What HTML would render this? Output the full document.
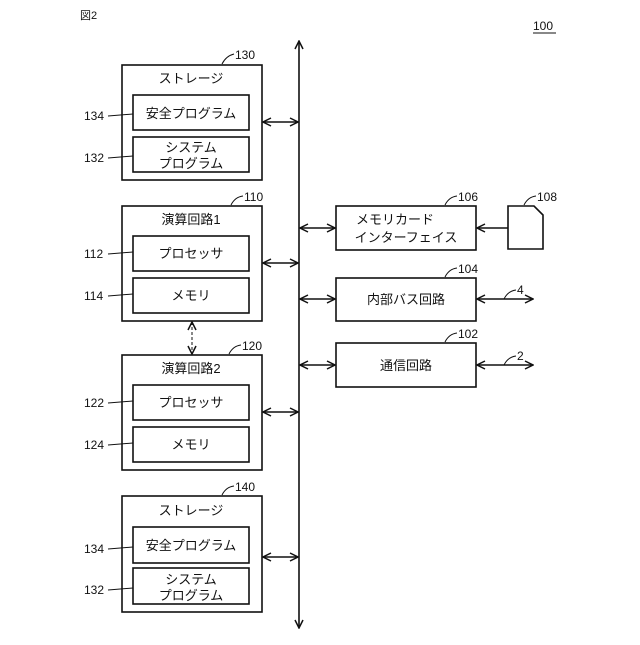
<!DOCTYPE html>
<html><head><meta charset="utf-8"><style>
body{margin:0;background:#fff}
svg text{font-family:"Liberation Sans","Noto Sans CJK JP",sans-serif;fill:#111}
</style></head><body>
<svg width="640" height="640" viewBox="0 0 640 640" xmlns="http://www.w3.org/2000/svg">
<defs>
<marker id="a" markerWidth="10" markerHeight="10" refX="9" refY="5" orient="auto-start-reverse" markerUnits="userSpaceOnUse">
<path d="M1,1 L9,5 L1,9" fill="none" stroke="#111" stroke-width="1.5"/>
</marker>
</defs>
<g stroke="#111" fill="none" stroke-width="1.6">
<!-- bus -->
<line x1="299" y1="41" x2="299" y2="628" marker-start="url(#a)" marker-end="url(#a)"/>
<!-- boxes left -->
<rect x="122" y="65" width="140" height="115"/>
<rect x="133" y="95" width="116" height="35"/>
<rect x="133" y="137" width="116" height="35"/>
<rect x="122" y="206" width="140" height="115"/>
<rect x="133" y="236" width="116" height="35"/>
<rect x="133" y="278" width="116" height="35"/>
<rect x="122" y="355" width="140" height="115"/>
<rect x="133" y="385" width="116" height="35"/>
<rect x="133" y="427" width="116" height="35"/>
<rect x="122" y="496" width="140" height="116"/>
<rect x="133" y="527" width="116" height="36"/>
<rect x="133" y="568" width="116" height="36"/>
<!-- right boxes -->
<rect x="336" y="206" width="140" height="44"/>
<rect x="336" y="278" width="140" height="43"/>
<rect x="336" y="343" width="140" height="44"/>
<path d="M508,206 H534 L543,215 V249 H508 Z"/>
<!-- connectors -->
<line x1="263" y1="122" x2="298" y2="122" marker-start="url(#a)" marker-end="url(#a)"/>
<line x1="263" y1="263" x2="298" y2="263" marker-start="url(#a)" marker-end="url(#a)"/>
<line x1="263" y1="412" x2="298" y2="412" marker-start="url(#a)" marker-end="url(#a)"/>
<line x1="263" y1="557" x2="298" y2="557" marker-start="url(#a)" marker-end="url(#a)"/>
<line x1="300" y1="228" x2="335" y2="228" marker-start="url(#a)" marker-end="url(#a)"/>
<line x1="300" y1="299" x2="335" y2="299" marker-start="url(#a)" marker-end="url(#a)"/>
<line x1="300" y1="365" x2="335" y2="365" marker-start="url(#a)" marker-end="url(#a)"/>
<line x1="508" y1="228" x2="477" y2="228" marker-end="url(#a)"/>
<line x1="477" y1="299" x2="533" y2="299" marker-start="url(#a)" marker-end="url(#a)"/>
<line x1="477" y1="365" x2="533" y2="365" marker-start="url(#a)" marker-end="url(#a)"/>
<line x1="192" y1="322" x2="192" y2="354" stroke-dasharray="3,2" stroke-width="1" marker-start="url(#a)" marker-end="url(#a)"/>
<!-- leaders -->
<g stroke-width="1">
<path d="M108,116 L133,114"/><path d="M108,158 L133,156"/>
<path d="M108,254 L133,252"/><path d="M108,296 L133,294"/>
<path d="M108,403 L133,401"/><path d="M108,445 L133,443"/>
<path d="M108,549 L133,547"/><path d="M108,590 L133,588"/>
<path d="M222,64 Q226,56 234,54"/><path d="M231,205 Q235,197 243,196"/>
<path d="M229,354 Q233,346 241,345"/><path d="M222,495 Q226,487 234,486"/>
<path d="M445,205 Q449,197 457,196"/><path d="M445,277 Q449,269 457,268"/>
<path d="M445,342 Q449,334 457,333"/><path d="M524,205 Q528,197 536,196"/>
<path d="M504,299 Q508,291 516,290"/><path d="M504,365 Q508,357 516,356"/>
<line x1="533" y1="33" x2="556" y2="33"/>
</g>
</g>
<g font-size="13" text-anchor="middle">
<text x="191" y="83">ストレージ</text>
<text x="191" y="118">安全プログラム</text>
<text x="191" y="152">システム</text>
<text x="191" y="168">プログラム</text>
<text x="191" y="224">演算回路1</text>
<text x="191" y="258">プロセッサ</text>
<text x="191" y="300">メモリ</text>
<text x="191" y="373">演算回路2</text>
<text x="191" y="407">プロセッサ</text>
<text x="191" y="449">メモリ</text>
<text x="191" y="515">ストレージ</text>
<text x="191" y="550">安全プログラム</text>
<text x="191" y="584">システム</text>
<text x="191" y="600">プログラム</text>
<text x="395" y="224">メモリカード</text>
<text x="406" y="242">インターフェイス</text>
<text x="406" y="304">内部バス回路</text>
<text x="406" y="370">通信回路</text>
</g>
<g font-size="12">
<text x="84" y="120">134</text><text x="84" y="162">132</text>
<text x="84" y="258">112</text><text x="84" y="300">114</text>
<text x="84" y="407">122</text><text x="84" y="449">124</text>
<text x="84" y="553">134</text><text x="84" y="594">132</text>
<text x="235" y="59">130</text><text x="244" y="201">110</text>
<text x="242" y="350">120</text><text x="235" y="491">140</text>
<text x="458" y="201">106</text><text x="458" y="273">104</text>
<text x="458" y="338">102</text><text x="537" y="201">108</text>
<text x="517" y="294">4</text><text x="517" y="360">2</text>
<text x="533" y="30">100</text>
<text x="80" y="19" font-size="11">図2</text>
</g>
</svg>
</body></html>
